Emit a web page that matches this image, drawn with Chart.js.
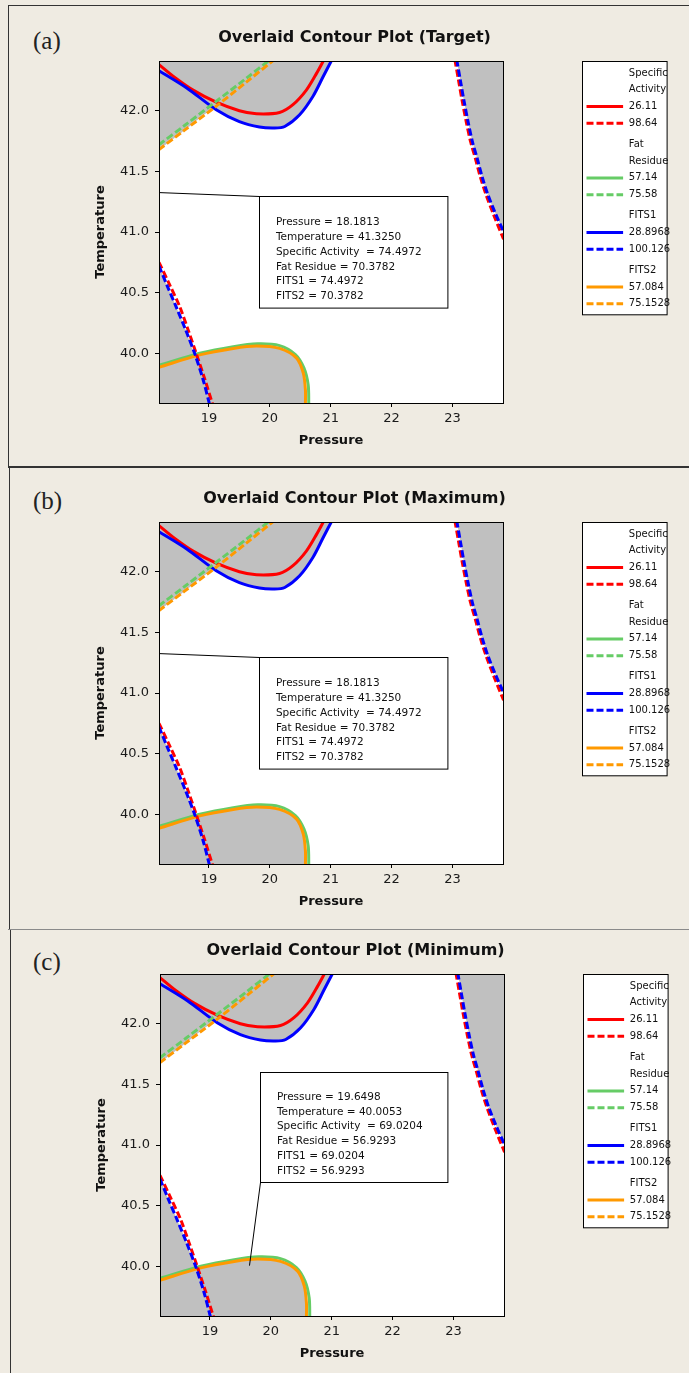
<!DOCTYPE html>
<html><head><meta charset="utf-8">
<script src="https://cdn.jsdelivr.net/npm/chart.js@4.4.1/dist/chart.umd.min.js"></script>
<style>
html,body{margin:0;padding:0;}
body{width:689px;height:1373px;background:#efebe2;position:relative;overflow:hidden;}
.ln{position:absolute;background:#333;}
.lab{position:absolute;font-family:'Liberation Serif',serif;font-size:25px;color:#222;line-height:1;}
canvas{position:absolute;}
</style></head><body>
<div class="ln" style="left:8px;top:5px;width:681px;height:1px;"></div>
<div class="ln" style="left:8px;top:5px;width:1px;height:462px;"></div>
<div class="ln" style="left:8px;top:466px;width:681px;height:2px;"></div>
<div class="ln" style="left:9px;top:468px;width:1px;height:461px;"></div>
<div class="ln" style="left:8px;top:929px;width:681px;height:1px;background:#8a8a8a"></div>
<div class="ln" style="left:10px;top:930px;width:1px;height:443px;"></div>
<div class="lab" style="left:33px;top:28px">(a)</div>
<div class="lab" style="left:33px;top:488px">(b)</div>
<div class="lab" style="left:33px;top:949px">(c)</div>
<canvas id="ca" width="669" height="460" style="left:20px;top:0px"></canvas>
<canvas id="cb" width="669" height="460" style="left:20px;top:461px"></canvas>
<canvas id="cc" width="669" height="460" style="left:21px;top:913px"></canvas>
<script>
// ---------- data ----------
const xTicks = [19, 20, 21, 22, 23];
const yTicks = [40.0, 40.5, 41.0, 41.5, 42.0];
const xRange = [18.18, 23.83];
const yRange = [39.59, 42.41];

const contourNames = ['Specific Activity', 'Fat Residue', 'FITS1', 'FITS2'];
const lowLevels  = ['26.11', '57.14', '28.8968', '57.084'];
const highLevels = ['98.64', '75.58', '100.126', '75.1528'];
const contourColors = ['#ff0000', '#66cc66', '#0000ff', '#ff9900'];

// Specific Activity low (26.11), solid red
const saLow = [[18.18,42.38],[18.45,42.27],[18.74,42.17],[19.12,42.07],[19.5,42.0],[19.78,41.975],[20.16,41.986],[20.38,42.05],[20.6,42.17],[20.77,42.31],[20.89,42.42]];
// Specific Activity high (98.64), dashed red: two branches
const saHighLeft  = [[18.18,40.75],[18.35,40.57],[18.52,40.385],[18.66,40.19],[18.79,40.0],[18.93,39.79],[19.06,39.58]];
const saHighRight = [[23.04,42.42],[23.1,42.25],[23.16,42.08],[23.23,41.9],[23.3,41.74],[23.38,41.6],[23.46,41.45],[23.55,41.31],[23.67,41.15],[23.84,40.94]];
// Fat Residue low (57.14), solid green
const frLow  = [[18.18,39.9],[18.85,40.0],[19.4,40.055],[19.8,40.078],[20.16,40.063],[20.42,39.99],[20.56,39.88],[20.63,39.74],[20.64,39.58]];
// Fat Residue high (75.58), dashed green
const frHigh = [[18.18,41.72],[18.6,41.878],[19.1,42.07],[19.6,42.262],[20.0,42.42]];
// FITS1 low (28.8968), solid blue
const f1Low = [[18.18,42.33],[18.63,42.19],[19.12,42.008],[19.5,41.91],[19.83,41.865],[20.08,41.857],[20.245,41.87],[20.49,41.967],[20.71,42.12],[20.875,42.28],[21.02,42.42]];
// FITS1 high (100.126), dashed blue: two branches
const f1HighLeft  = [[18.18,40.72],[18.32,40.55],[18.46,40.385],[18.62,40.19],[18.765,40.0],[18.9,39.79],[19.01,39.58]];
const f1HighRight = [[23.07,42.42],[23.13,42.25],[23.19,42.08],[23.26,41.9],[23.33,41.74],[23.41,41.6],[23.49,41.45],[23.58,41.31],[23.7,41.16],[23.85,40.99]];
// FITS2 low (57.084), solid orange
const f2Low  = [[18.18,39.885],[18.85,39.987],[19.4,40.04],[19.78,40.06],[20.16,40.04],[20.44,39.96],[20.55,39.836],[20.585,39.7],[20.585,39.58]];
// FITS2 high (75.1528), dashed orange
const f2High = [[18.18,41.68],[18.6,41.84],[19.1,42.03],[19.6,42.23],[20.07,42.42]];

// infeasible (grey) region boundaries
const greyTopLeft  = [[18.18,41.68],[18.6,41.84],[19.08,42.025],[19.12,42.008],[19.5,41.91],[19.83,41.865],[20.08,41.857],[20.245,41.87],[20.49,41.967],[20.71,42.12],[20.875,42.28],[21.02,42.42]];
const greyTopRight = [[23.07,42.42],[23.13,42.25],[23.19,42.08],[23.26,41.9],[23.33,41.74],[23.41,41.6],[23.49,41.45],[23.58,41.31],[23.7,41.16],[23.85,40.99]];
const greyBottomLeft = [[18.18,40.72],[18.32,40.55],[18.46,40.385],[18.62,40.19],[18.775,39.985],[18.85,39.987],[19.4,40.04],[19.78,40.06],[20.16,40.04],[20.44,39.96],[20.55,39.836],[20.585,39.7],[20.585,39.58]];

const titles = ['Overlaid Contour Plot (Target)', 'Overlaid Contour Plot (Maximum)', 'Overlaid Contour Plot (Minimum)'];
const annotLabels = ['Pressure', 'Temperature', 'Specific Activity ', 'Fat Residue', 'FITS1', 'FITS2'];
const annotValuesTarget  = ['18.1813', '41.3250', '74.4972', '70.3782', '74.4972', '70.3782'];
const annotValuesMaximum = ['18.1813', '41.3250', '74.4972', '70.3782', '74.4972', '70.3782'];
const annotValuesMinimum = ['19.6498', '40.0053', '69.0204', '56.9293', '69.0204', '56.9293'];

// ---------- rendering ----------
Chart.defaults.font.family = "'DejaVu Sans', sans-serif";
const toXY = a => a.map(p => ({x: p[0], y: p[1]}));
const GREY = '#c0c0c0';
const DASH = [7, 3];

function lineDs(arr, color, dashed) {
  return {data: toXY(arr), borderColor: color, borderWidth: 3, borderDash: dashed ? DASH : [],
          pointRadius: 0, fill: false, tension: 0.3, clip: 0, borderCapStyle: 'butt'};
}
function greyDs(arr, target) {
  return {data: toXY(arr), borderColor: 'rgba(0,0,0,0)', borderWidth: 0, backgroundColor: GREY,
          pointRadius: 0, fill: target, tension: 0.3, clip: 0};
}

const bgPlugin = {
  id: 'bg',
  beforeDatasetsDraw(chart) {
    const {ctx, chartArea: c} = chart;
    ctx.save(); ctx.fillStyle = '#fff';
    ctx.fillRect(c.left, c.top, c.right - c.left, c.bottom - c.top);
    ctx.restore();
  }
};
const al = v => Math.round(v + 0.5) - 0.5;
const framePlugin = {
  id: 'frame',
  afterDatasetsDraw(chart) {
    const {ctx, chartArea: c} = chart;
    ctx.save(); ctx.strokeStyle = '#000'; ctx.lineWidth = 1;
    ctx.strokeRect(al(c.left), al(c.top), al(c.right) - al(c.left), al(c.bottom) - al(c.top));
    ctx.restore();
  }
};
function makeAnnot(cfg) {
  return {
    id: 'annot',
    afterDatasetsDraw(chart) {
      const {ctx, chartArea: c, scales: {x, y}} = chart;
      const bx = al(c.left + cfg.left), by = al(c.top + cfg.top);
      const px = x.getPixelForValue(cfg.point[0]), py = y.getPixelForValue(cfg.point[1]);
      ctx.save();
      ctx.strokeStyle = '#000'; ctx.lineWidth = 1;
      ctx.beginPath(); ctx.moveTo(px, py);
      ctx.lineTo(bx, cfg.anchor === 'bl' ? by + cfg.h : by); ctx.stroke();
      ctx.fillStyle = '#fff'; ctx.fillRect(bx, by, cfg.w, cfg.h);
      ctx.strokeRect(bx, by, cfg.w, cfg.h);
      ctx.fillStyle = '#111'; ctx.font = "10.5px 'DejaVu Sans'"; ctx.textBaseline = 'middle';
      annotLabels.forEach((lab, i) => {
        ctx.fillText(lab + ' = ' + cfg.values[i], bx + 16.4, by + cfg.first + i * 14.8);
      });
      ctx.restore();
    }
  };
}
const legendPlugin = {
  id: 'customLegend',
  afterDraw(chart) {
    const {ctx, chartArea: c} = chart;
    const L = al(c.right + 79.7), T = al(c.top), W = 84.6, H = 253.3;
    ctx.save();
    ctx.fillStyle = '#fff'; ctx.fillRect(L, T, W, H);
    ctx.strokeStyle = '#000'; ctx.lineWidth = 1; ctx.strokeRect(L, T, W, H);
    ctx.font = "10px 'DejaVu Sans'"; ctx.textBaseline = 'middle'; ctx.fillStyle = '#111';
    let row = 0;
    const rowY = (r, g) => T + 11.6 + r * 16.75 + g * 4.3;
    contourNames.forEach((name, g) => {
      const words = name === 'FITS1' || name === 'FITS2' ? [name] : name.split(' ');
      words.forEach(w => { ctx.fillStyle = '#111'; ctx.fillText(w, L + 46.3, rowY(row, g)); row++; });
      [[lowLevels[g], false], [highLevels[g], true]].forEach(([lev, dashed]) => {
        const yy = rowY(row, g);
        ctx.strokeStyle = contourColors[g]; ctx.lineWidth = 3; ctx.setLineDash(dashed ? DASH : []);
        ctx.beginPath(); ctx.moveTo(L + 4, yy); ctx.lineTo(L + 40.6, yy); ctx.stroke();
        ctx.setLineDash([]);
        ctx.fillStyle = '#111'; ctx.fillText(lev, L + 46.3, yy);
        row++;
      });
    });
    ctx.restore();
  }
};

function makeChart(id, title, annot) {
  const [cRed, cGreen, cBlue, cOrange] = contourColors;
  const datasets = [
    lineDs(f1HighLeft, cBlue, true), lineDs(f1HighRight, cBlue, true),
    lineDs(saHighLeft, cRed, true), lineDs(saHighRight, cRed, true),
    lineDs(f2Low, cOrange, false), lineDs(frLow, cGreen, false),
    lineDs(f2High, cOrange, true), lineDs(frHigh, cGreen, true),
    lineDs(f1Low, cBlue, false), lineDs(saLow, cRed, false),
    greyDs(greyTopLeft, 'end'), greyDs(greyTopRight, 'end'), greyDs(greyBottomLeft, 'start')
  ];
  const tickFont = {size: 13, family: "'DejaVu Sans', sans-serif"};
  const axTitleFont = {size: 13, weight: 'bold', family: "'DejaVu Sans', sans-serif"};
  new Chart(document.getElementById(id), {
    type: 'line',
    data: {datasets},
    options: {
      responsive: false, animation: false, events: [],
      layout: {padding: {left: 0, right: 0, top: 0, bottom: 0}},
      plugins: {
        legend: {display: false}, tooltip: {enabled: false},
        title: {display: true, text: title, color: '#111',
                font: {size: 16, weight: 'bold', family: "'DejaVu Sans', sans-serif", lineHeight: 1.2},
                padding: {top: 28.4, bottom: 13.4}}
      },
      scales: {
        x: {
          type: 'linear', min: xRange[0], max: xRange[1],
          afterBuildTicks: s => { s.ticks = xTicks.map(v => ({value: v})); },
          afterFit: s => { s.height = 57; },
          grid: {drawOnChartArea: false, tickLength: 4, color: '#000'},
          border: {color: '#000'},
          ticks: {font: tickFont, color: '#1a1a1a', padding: 4, maxRotation: 0, callback: v => String(v)},
          title: {display: true, text: 'Pressure', color: '#111', font: axTitleFont, padding: {top: 0, bottom: 12}}
        },
        y: {
          type: 'linear', min: yRange[0], max: yRange[1],
          afterBuildTicks: s => { s.ticks = yTicks.map(v => ({value: v})); },
          afterFit: s => { s.width = 139; },
          grid: {drawOnChartArea: false, tickLength: 4, color: '#000'},
          border: {color: '#000'},
          ticks: {font: tickFont, color: '#1a1a1a', padding: 6, callback: v => Number(v).toFixed(1)},
          title: {display: true, text: 'Temperature', color: '#111', font: axTitleFont, padding: {top: 73, bottom: 0}}
        },
        legendSpace: {
          type: 'linear', position: 'right', display: true,
          afterFit: s => { s.width = 186; },
          grid: {display: false}, ticks: {display: false}, border: {display: false}
        }
      }
    },
    plugins: [bgPlugin, framePlugin, makeAnnot(annot), legendPlugin]
  });
}

makeChart('ca', titles[0], {point: [18.1813, 41.3250], left: 100.3, top: 135.7, w: 188.4, h: 111.6, anchor: 'tl', first: 26, values: annotValuesTarget});
makeChart('cb', titles[1], {point: [18.1813, 41.3250], left: 100.3, top: 135.7, w: 188.4, h: 111.6, anchor: 'tl', first: 26, values: annotValuesMaximum});
makeChart('cc', titles[2], {point: [19.6498, 40.0053], left: 100.3, top: 98.3, w: 187.4, h: 110, anchor: 'bl', first: 24.5, values: annotValuesMinimum});
</script>
</body></html>
